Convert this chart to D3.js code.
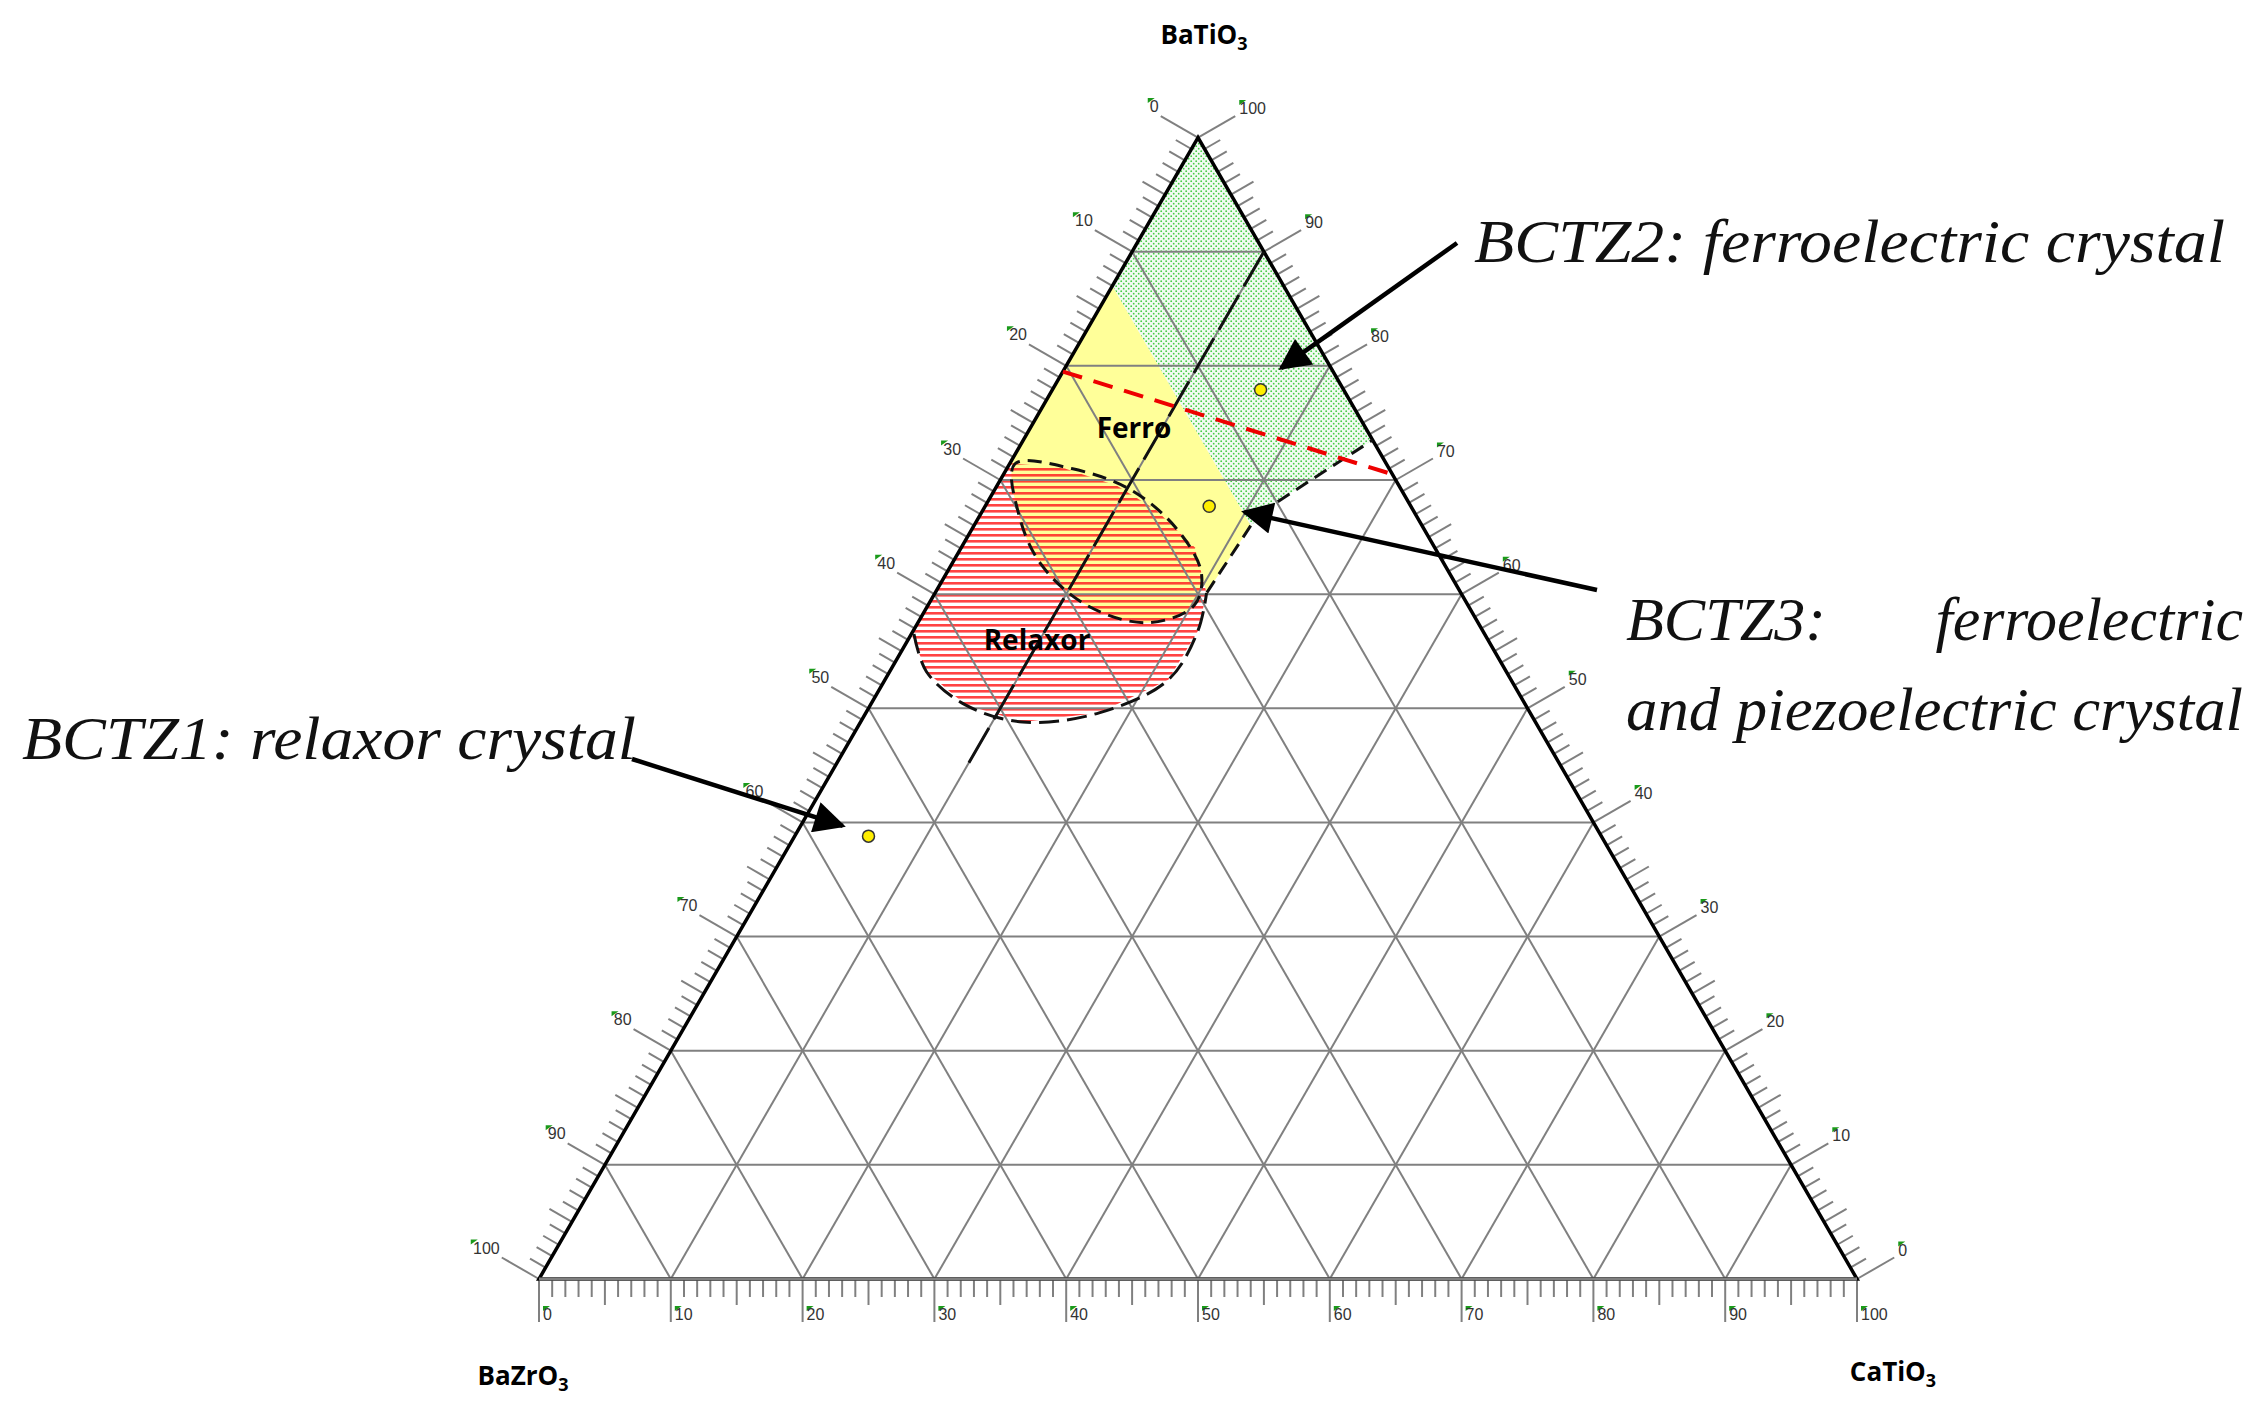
<!DOCTYPE html>
<html>
<head>
<meta charset="utf-8">
<script src="https://cdn.jsdelivr.net/npm/d3@7"></script>
<style>
  body { margin: 0; background: #fff; }
  .ann { font-family: "Liberation Serif", "Times New Roman", serif; font-style: italic; font-size: 62px; fill: #111; }
</style>
</head>
<body>
<svg id="chart" width="2265" height="1419"></svg>
<script>
// ternary coords: a = BaTiO3 %, c = CaTiO3 % (BaZrO3 = 100 - a - c)
const gridSteps = [10, 20, 30, 40, 50, 60, 70, 80, 90];
const tickLabels = [0, 10, 20, 30, 40, 50, 60, 70, 80, 90, 100];

// green (BCTZ2) region
const greenRegion = [[100, 0], [87, 0], [66, 21], [68.1, 22], [73.5, 26.5]];
// yellow ferro region (upper part)
const yellowRegion = [[87, 0], [66, 21], [60.1, 20.6], [61.9, 19.3], [71.4, 0]];
// dashed ellipse inside ferro
const ellipsePts = [[71.4, 0.4], [71.0, 4.9], [69.2, 10.2], [65.9, 15.3], [61.9, 19.3], [59.0, 20.2],
  [57.5, 17.4], [59.0, 12.1], [62.6, 6.8], [67.0, 2.9]];
// relaxor hatched region
const relaxorRegion = [[71.5, 0], [56.5, 0], [53.2, 2.8], [50.3, 7.2], [48.8, 12.3], [49.6, 17.7], [52.5, 21.5],
  [56.8, 21.6], [60.1, 20.6], [64.1, 17.7], [67.4, 13.1], [69.5, 9.1], [71.0, 4.4]];
const relaxorArc = [[56.5, 0.2], [53.2, 2.8], [50.3, 7.2], [48.8, 12.3], [49.6, 17.7], [52.5, 21.5], [56.8, 21.6], [60.1, 20.6]];
// dashed boundaries
const boundaryA = [[66, 21], [60.1, 20.6]];
const boundaryB = [[68.1, 22], [73.5, 26.5]];
const caLine = [[90, 10], [44.5, 10]];
const redLine = [[79.5, 0], [70.5, 29.5]];
// compositions
const samples = [[77.9, 15.8], [67.7, 17.0], [38.8, 5.6]];
// annotations: tip in ternary, tail in px
const arrows = [
  { tip: [79.8, 16.4], tail: [1457, 243] },
  { tip: [67.2, 19.9], tail: [1597, 590] },
  { tip: [39.7, 3.2], tail: [632, 759] }
];

const xL = 539, xR = 1857, yB = 1279;
const side = xR - xL, H = side * Math.sqrt(3) / 2;
const sx = d3.scaleLinear().domain([0, 100]).range([xL, xR]);
const sy = d3.scaleLinear().domain([0, 100]).range([yB, yB - H]);
const P = d => [sx(d[1] + d[0] / 2), sy(d[0])];

const svg = d3.select("#chart");
const defs = svg.append("defs");
const dots = defs.append("pattern").attr("id", "dots").attr("patternUnits", "userSpaceOnUse")
  .attr("width", 5).attr("height", 5);
dots.append("rect").attr("width", 5).attr("height", 5).attr("fill", "#f2fbf2");
dots.append("circle").attr("cx", 1.2).attr("cy", 1.2).attr("r", 0.9).attr("fill", "#44cc44");
dots.append("circle").attr("cx", 3.7).attr("cy", 3.7).attr("r", 0.9).attr("fill", "#44cc44");
const stripes = defs.append("pattern").attr("id", "stripes").attr("patternUnits", "userSpaceOnUse")
  .attr("width", 8).attr("height", 6);
stripes.append("rect").attr("y", 0).attr("width", 8).attr("height", 2.6).attr("fill", "#f22");

const line = d3.line().x(d => P(d)[0]).y(d => P(d)[1]);
const curved = c => d3.line().x(d => P(d)[0]).y(d => P(d)[1]).curve(c);

// regions
svg.append("path").attr("d", line(greenRegion) + "Z").attr("fill", "url(#dots)");
svg.append("path").attr("d", line(yellowRegion) + "Z").attr("fill", "#ffff99");
svg.append("path").attr("d", curved(d3.curveCatmullRomClosed)(ellipsePts)).attr("fill", "#ffff99");
svg.append("path").attr("d", line(relaxorRegion) + "Z").attr("fill", "url(#stripes)").attr("opacity", 0.85);

// grid
const g = svg.append("g").attr("stroke", "#808080").attr("stroke-width", 2).attr("fill", "none");
gridSteps.forEach(v => {
  g.append("path").attr("d", line([[v, 0], [v, 100 - v]]));
  g.append("path").attr("d", line([[0, v], [100 - v, v]]));
  g.append("path").attr("d", line([[0, 100 - v], [100 - v, 0]]));
});

// ticks
const ticks = svg.append("g").attr("stroke", "#808080").attr("stroke-width", 2);
const c30 = Math.cos(Math.PI / 6), s30 = 0.5;
const sides = [
  { pt: t => [100 - t, 0], n: [-c30, -s30] },   // left: BaZrO3
  { pt: t => [0, t], n: [0, 1] },               // bottom: CaTiO3
  { pt: t => [t, 100 - t], n: [c30, -s30] }     // right: BaTiO3
];
const labG = svg.append("g").attr("font-family", "Liberation Sans, Arial, sans-serif").attr("font-size", 16).attr("fill", "#333");
sides.forEach(sd => {
  d3.range(0, 101).forEach(t => {
    const len = t % 10 === 0 ? 43 : t % 5 === 0 ? 26 : 18;
    const [x, y] = P(sd.pt(t));
    ticks.append("line").attr("x1", x).attr("y1", y)
      .attr("x2", x + sd.n[0] * len).attr("y2", y + sd.n[1] * len);
  });
  tickLabels.forEach(t => {
    const [x, y] = P(sd.pt(t));
    const ex = x + sd.n[0] * 43, ey = y + sd.n[1] * 43;
    let tx, ty, anchor;
    if (sd.n[1] === 1) { tx = ex + 4; ty = ey - 2; anchor = "start"; }
    else if (sd.n[0] < 0) { tx = ex - 2; ty = ey - 4; anchor = "end"; }
    else { tx = ex + 4; ty = ey - 2; anchor = "start"; }
    const w = String(t).length * 9;
    labG.append("path").attr("d", `M${tx - (anchor === "end" ? w + 2 : 0)},${ty - 14}l7,0l-7,5z`).attr("fill", "#1a9a1a");
    labG.append("text").attr("x", tx).attr("y", ty).attr("text-anchor", anchor).text(t);
  });
});

// triangle border
svg.append("path").attr("d", line([[100, 0], [0, 0], [0, 100]]) + "Z")
  .attr("fill", "none").attr("stroke", "#000").attr("stroke-width", 3.5);
svg.append("path").attr("d", line([[0, 0], [0, 100]])).attr("stroke", "#808080").attr("stroke-width", 3);

// dashed lines
const dash = (pts, col, w, da, curve) => svg.append("path")
  .attr("d", (curve ? curved(curve) : line)(pts))
  .attr("fill", "none").attr("stroke", col).attr("stroke-width", w).attr("stroke-dasharray", da);
dash(ellipsePts, "#111", 3, "14,8", d3.curveCatmullRomClosed);
dash(relaxorArc, "#111", 3, "20,8", d3.curveCatmullRom);
dash(boundaryA, "#111", 3, "14,8");
dash(boundaryB, "#111", 3, "14,8");
dash(caLine, "#111", 3, "40,10");
dash(redLine, "#e00", 4, "20,12");

// samples
svg.selectAll(".pt").data(samples).enter().append("circle")
  .attr("cx", d => P(d)[0]).attr("cy", d => P(d)[1]).attr("r", 6)
  .attr("fill", "#ffee00").attr("stroke", "#333").attr("stroke-width", 1.5);

// arrows
defs.append("marker").attr("id", "head").attr("viewBox", "0 0 10 10").attr("refX", 9).attr("refY", 5)
  .attr("markerWidth", 10).attr("markerHeight", 7).attr("markerUnits", "strokeWidth").attr("orient", "auto")
  .append("path").attr("d", "M0,0L10,5L0,10z").attr("fill", "#000");
arrows.forEach(a => {
  const [x, y] = P(a.tip);
  svg.append("line").attr("x1", a.tail[0]).attr("y1", a.tail[1]).attr("x2", x).attr("y2", y)
    .attr("stroke", "#000").attr("stroke-width", 4.5).attr("marker-end", "url(#head)");
});

// region labels
const bold = (t, x, y, s) => svg.append("text").attr("x", x).attr("y", y).attr("text-anchor", "middle")
  .attr("font-family", "Open Sans, Liberation Sans, sans-serif").attr("font-weight", "bold").attr("font-size", s).text(t);
bold("Ferro", 1134, 438, 28);
bold("Relaxor", 1037, 650, 28);

// vertex labels
[["BaTiO", 1204, 44], ["BaZrO", 523, 1385], ["CaTiO", 1893, 1381]].forEach(d => {
  const t = svg.append("text").attr("x", d[1]).attr("y", d[2]).attr("text-anchor", "middle")
    .attr("font-family", "Open Sans, Liberation Sans, sans-serif").attr("font-weight", "bold").attr("font-size", 26).text(d[0]);
  t.append("tspan").attr("font-size", 18).attr("dy", 6).text("3");
});

// annotations
const it = (t, x, y, len, anchor) => {
  const e = svg.append("text").attr("class", "ann").attr("x", x).attr("y", y)
    .attr("text-anchor", anchor || "start").text(t);
  if (len) e.attr("textLength", len).attr("lengthAdjust", "spacingAndGlyphs");
};
it("BCTZ2: ferroelectric crystal", 1474, 262, 751);
it("BCTZ3:", 1626, 640);
it("ferroelectric", 2243, 640, null, "end");
it("and piezoelectric crystal", 1626, 730, 617);
it("BCTZ1: relaxor crystal", 22, 759, 614);
</script>
</body>
</html>
